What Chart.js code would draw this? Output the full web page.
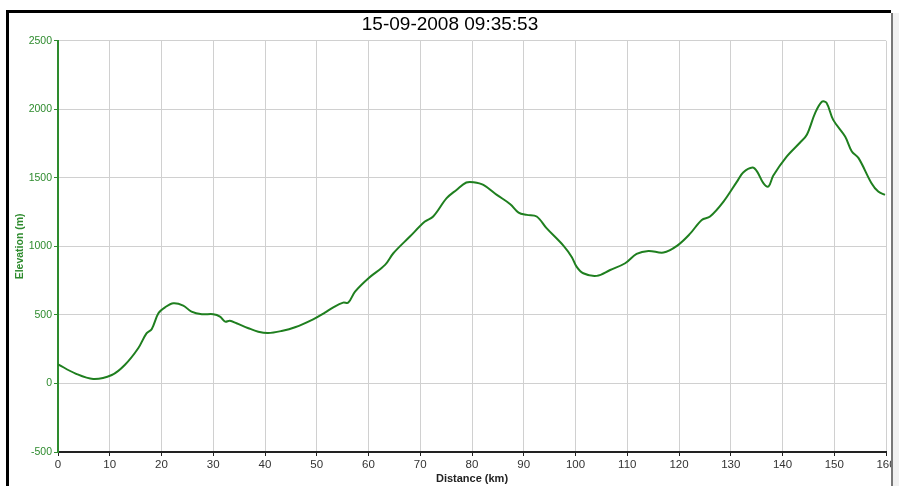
<!DOCTYPE html>
<html>
<head>
<meta charset="utf-8">
<script src="https://cdn.jsdelivr.net/npm/chart.js@4.4.1/dist/chart.umd.min.js"></script>
<style>
  html, body { margin: 0; padding: 0; background: #fff; }
  #wrap { position: relative; width: 899px; height: 486px; overflow: hidden; }
  #frame {
    position: absolute; left: 6px; top: 10px; width: 882px; height: 480px;
    border-left: 3px solid #000; border-top: 3px solid #000;
    pointer-events: none;
  }
  #sidebar {
    position: absolute; left: 891px; top: 13px; width: 8px; height: 480px;
    border-left: 2px solid #777; background: #f0f0f0; pointer-events: none;
  }
</style>
</head>
<body>
<div id="wrap">
  <canvas id="profile-chart" width="899" height="486"></canvas>
  <div id="frame"></div>
  <div id="sidebar"></div>
</div>
<script>
// Elevation profile

const chartTitle = '15-09-2008 09:35:53';

const distanceKm = [
  0, 3.3, 6.8, 10.4, 12.9, 15.5, 17.1, 18.1, 19.4, 20.7, 22.3, 24.2, 25.8, 27.8, 30.0,
  31.3, 32.3, 33.2, 34.5, 36.8, 38.7, 40.6, 43.2, 45.8, 49.3, 51.5, 53.2, 55.1, 56.1,
  57.4, 60.0, 63.2, 64.8, 68.0, 70.9, 72.5, 75.1, 77.0, 78.9, 80.3, 82.2, 84.8, 87.4,
  89.0, 90.6, 92.5, 94.4, 97.7, 99.3, 100.2, 101.5, 104.1, 106.7, 109.6, 111.8, 114.1,
  117.0, 119.6, 122.1, 124.4, 126.0, 128.6, 131.2, 132.4, 134.2, 135.1, 136.3, 137.3,
  138.2, 140.8, 143.4, 144.7, 146.3, 147.6, 148.5, 149.8, 152.1, 153.4, 154.7, 157.2,
  158.5, 159.8
];

const elevationM = [
  140, 74, 33, 62, 135, 257, 366, 396, 512, 556, 585, 568, 524, 505, 505,
  488, 451, 458, 439, 403, 378, 368, 383, 410, 468, 515, 556, 590, 590,
  670, 768, 865, 950, 1072, 1181, 1218, 1352, 1412, 1466, 1468, 1449, 1376, 1308,
  1247, 1230, 1218, 1133, 1004, 921, 853, 804, 785, 828, 877, 945, 967,
  955, 1004, 1091, 1193, 1218, 1327, 1473, 1539, 1575, 1546, 1461, 1437,
  1515, 1655, 1758, 1814, 1972, 2055, 2048, 1923, 1801, 1692, 1644, 1461,
  1400, 1376
];

const xTicks = [0, 10, 20, 30, 40, 50, 60, 70, 80, 90, 100, 110, 120, 130, 140, 150, 160];
const yTicks = [-500, 0, 500, 1000, 1500, 2000, 2500];

const lineGreen = '#1f7f1f';
const axisGreen = '#2e8b2e';
const gridGray = '#d0d0d0';
const fontFamily = 'Liberation Sans, Arial, sans-serif';

const points = distanceKm.map((d, i) => ({ x: d, y: elevationM[i] }));

const ctx = document.getElementById('profile-chart');

new Chart(ctx, {
    type: 'line',
    data: {
        datasets: [{
            label: 'Elevation',
            data: points,
            borderColor: lineGreen,
            borderWidth: 2,
            pointRadius: 0,
            tension: 0.35,
            fill: false
        }]
    },
    options: {
        responsive: false,
        animation: false,
        devicePixelRatio: 1,
        layout: {
            padding: { left: 14, right: 13, top: 0, bottom: 0 }
        },
        plugins: {
            legend: { display: false },
            tooltip: { enabled: false },
            title: {
                display: true,
                text: chartTitle,
                color: '#000',
                font: { family: fontFamily, size: 19, weight: 'normal' },
                padding: { top: 13, bottom: 5 }
            }
        },
        scales: {
            x: {
                type: 'linear',
                min: 0,
                max: 160,
                afterFit: function(scale) { scale.height = 34; },
                afterBuildTicks: function(scale) {
                    scale.ticks = xTicks.map(v => ({ value: v }));
                },
                ticks: {
                    color: '#333',
                    padding: 2,
                    maxRotation: 0,
                    callback: v => String(v),
                    font: { family: fontFamily, size: 11.5 }
                },
                grid: {
                    color: gridGray,
                    tickColor: '#222',
                    tickLength: 4,
                    lineWidth: 1
                },
                border: { color: '#222', width: 2 },
                title: {
                    display: true,
                    text: 'Distance (km)',
                    color: '#222',
                    padding: 0,
                    font: { family: fontFamily, size: 11, weight: 'bold' }
                }
            },
            y: {
                min: -500,
                max: 2500,
                afterFit: function(scale) { scale.width = 44; },
                afterBuildTicks: function(scale) {
                    scale.ticks = yTicks.map(v => ({ value: v }));
                },
                ticks: {
                    color: axisGreen,
                    padding: 2,
                    callback: v => String(v),
                    font: { family: fontFamily, size: 10.5 }
                },
                grid: {
                    color: gridGray,
                    tickColor: axisGreen,
                    tickLength: 4,
                    lineWidth: 1
                },
                border: { color: axisGreen, width: 2 },
                title: {
                    display: true,
                    text: 'Elevation (m)',
                    color: axisGreen,
                    padding: 0,
                    font: { family: fontFamily, size: 10.5, weight: 'bold' }
                }
            }
        }
    }
});
</script>
</body>
</html>
